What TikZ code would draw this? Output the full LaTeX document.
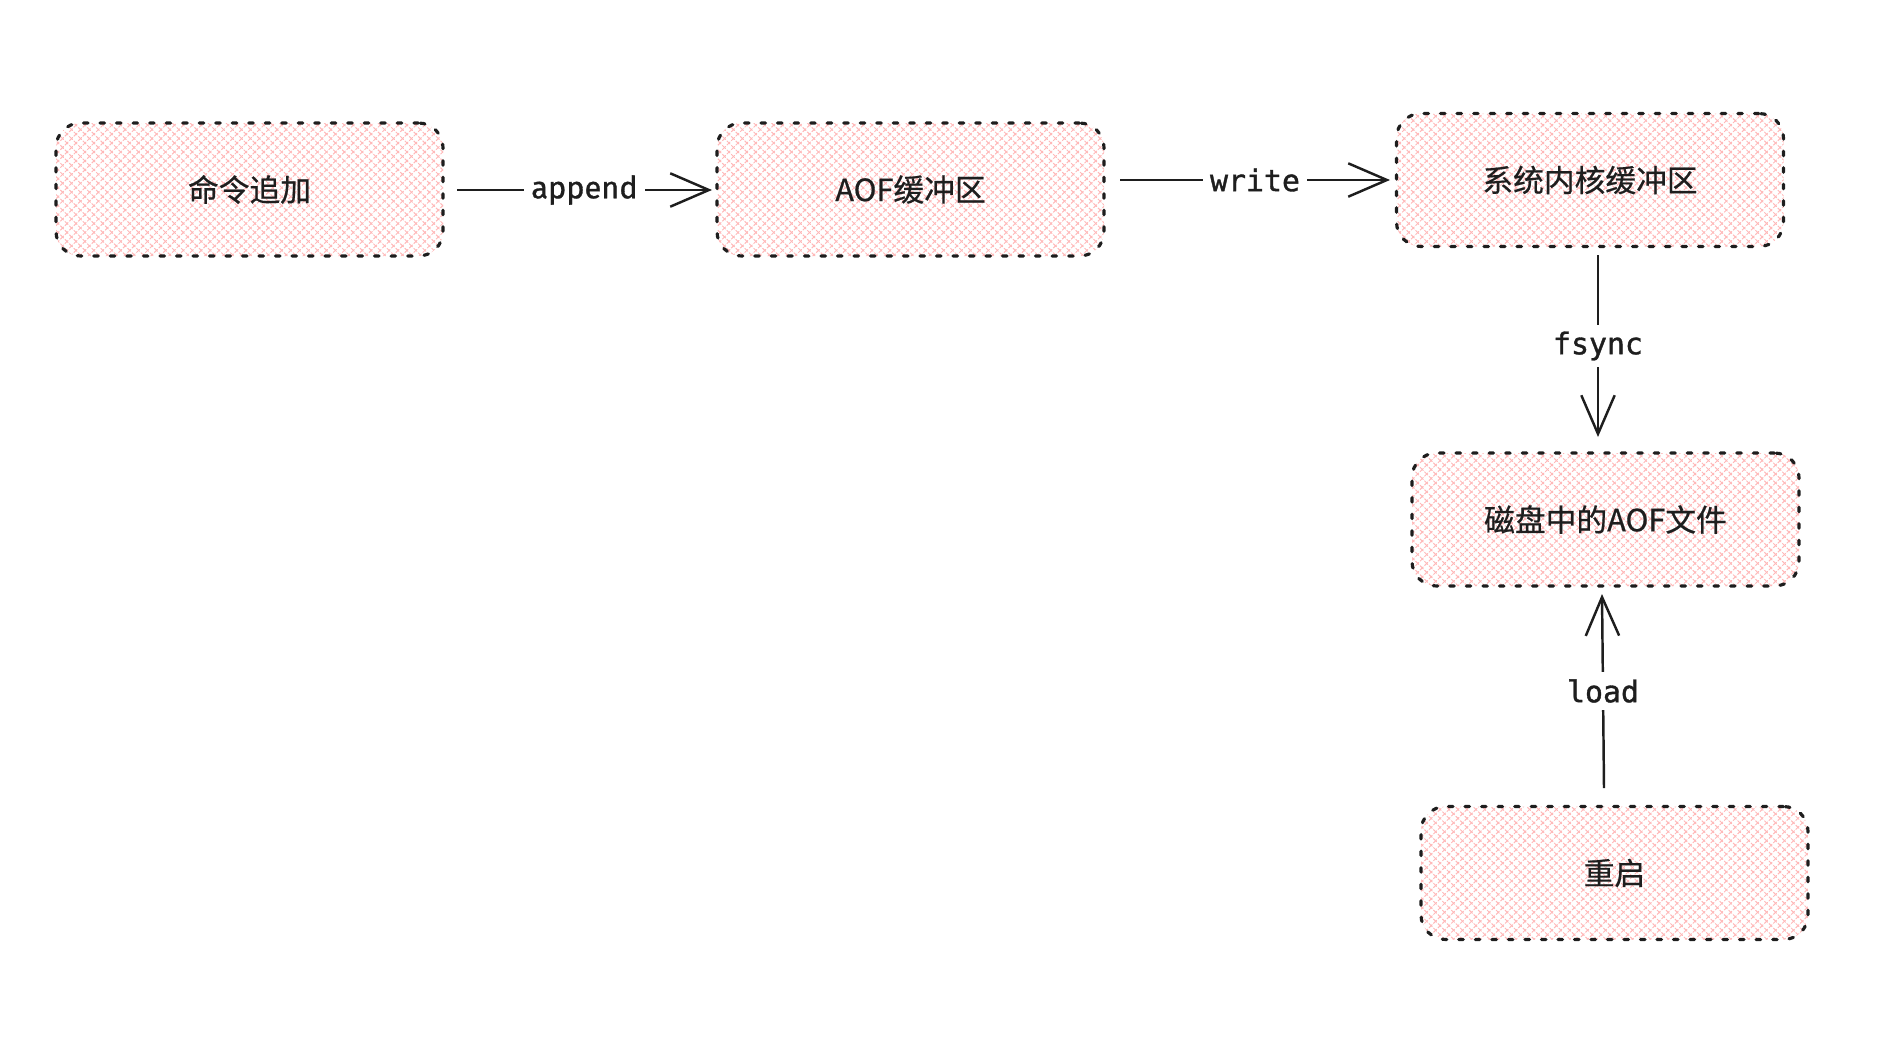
\documentclass[tikz,border=0pt]{standalone}
\usepackage{fontspec}
\newfontfamily\cjk[FakeBold=0.6]{Noto Sans CJK SC}
\newfontfamily\lbl[FakeBold=1]{Fira Sans}
\newfontfamily\mono[FakeBold=1.2]{DejaVu Sans Mono}
\usetikzlibrary{arrows.meta,patterns.meta}
\definecolor{hatch}{HTML}{FFB8B8}
\definecolor{ink}{HTML}{1E1E1E}
\tikzset{
  box/.style={draw=ink, line width=1.8pt, dash pattern=on 2.6pt off 6.8pt, line cap=round,
    rounded corners=14pt, minimum width=387*0.02cm, minimum height=133*0.02cm,
    preaction={pattern={Lines[angle=45,distance=3.6pt,line width=0.55pt]}, pattern color=hatch},
    pattern={Lines[angle=-45,distance=3.6pt,line width=0.55pt]}, pattern color=hatch,
    font=\cjk\fontsize{17.5}{20}\selectfont, text=ink},
  conn/.style={draw=ink, line width=1.4pt, -{Straight Barb[length=22pt,width=19pt,line width=1.4pt]}},
  lab/.style={fill=white, inner sep=4pt, text=ink},
  mlab/.style={lab, font=\mono\fontsize{17}{20}\selectfont},
  slab/.style={lab, font=\lbl\fontsize{17.5}{20}\selectfont}
}
\begin{document}
\begin{tikzpicture}[x=0.02cm,y=-0.02cm]
\useasboundingbox (0,0) rectangle (1884,1042);
\node[box] (cmd) at (249.5,189.5) {命令追加};
\node[box] (buf) at (910.5,189.5) {AOF缓冲区};
\node[box] (kern) at (1590,180) {系统内核缓冲区};
\node[box] (file) at (1605.5,519.5) {磁盘中的AOF文件};
\node[box] (boot) at (1614.5,873) {重启};
\coordinate (a1) at (457,190); \coordinate (a2) at (712,190);
\draw[conn] (a1) -- node[slab] {append} (a2);
\coordinate (w1) at (1120,180); \coordinate (w2) at (1390,180);
\draw[conn] (w1) -- node[mlab] {write} (w2);
\coordinate (f1) at (1598,255); \coordinate (f2) at (1598,437);
\draw[conn] (f1) -- node[mlab] {fsync} (f2);
\coordinate (l1) at (1604,788); \coordinate (l2) at (1602,594);
\draw[conn] (l1) -- node[mlab] {load} (l2);
\end{tikzpicture}
\end{document}
